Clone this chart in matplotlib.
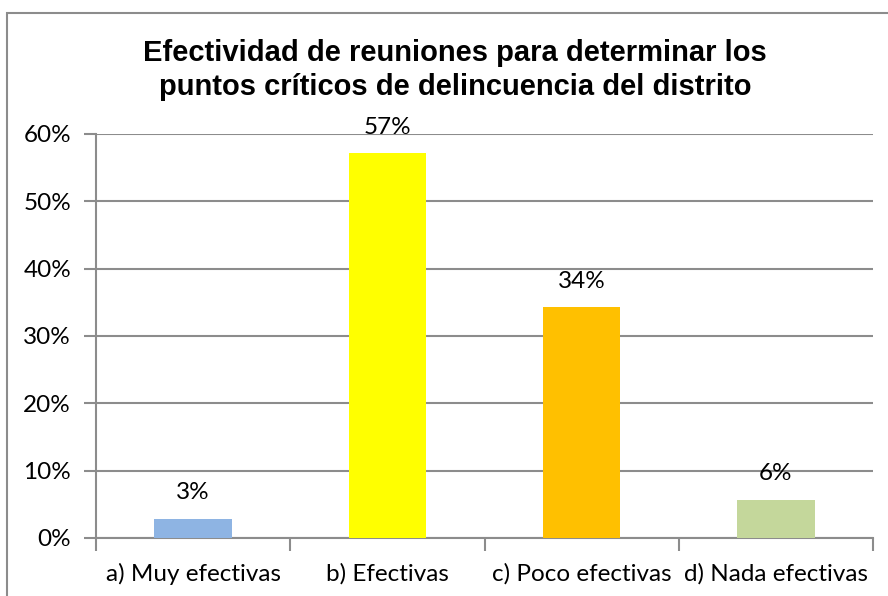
import matplotlib.pyplot as plt
from matplotlib.patches import Rectangle

categorias = ['a) Muy efectivas', 'b) Efectivas', 'c) Poco efectivas', 'd) Nada efectivas']
valores = [1/35, 20/35, 12/35, 2/35]
colores = ['#8EB4E3', '#FFFF00', '#FFC000', '#C4D79B']
yticks = [0, 0.1, 0.2, 0.3, 0.4, 0.5, 0.6]

W, H = 888, 596
fig = plt.figure(figsize=(W/100, H/100), dpi=100)
fig.patch.set_facecolor('white')

# chart border (cropped at right and bottom)
fig.patches.append(Rectangle((7/W, -0.1), 1.2, (H - 13)/H + 0.1, transform=fig.transFigure,
                             fill=False, edgecolor='#8c8c8c', linewidth=1.5))

fs = 17.5
ax = fig.add_axes([96/W, (H-538)/H, (873-96)/W, (538-134)/H])
x = range(len(categorias))
ax.bar(x, valores, width=0.4, color=colores, zorder=3)
ax.set_xlim(-0.5, 3.5)
ax.set_ylim(0, 0.6)
ax.set_yticks(yticks)
ax.set_yticklabels(['%d%%' % round(v*100) for v in yticks], fontsize=fs, family='Lato')
ax.set_xticks(list(x))
ax.set_xticklabels(categorias, fontsize=fs, family='Lato')
ax.tick_params(axis='x', length=0, pad=18)
ax.set_xticks([-0.5, 0.5, 1.5, 2.5, 3.5], minor=True)
ax.tick_params(axis='x', which='minor', length=9, width=1.5, color='#8c8c8c')
ax.tick_params(axis='y', length=9, width=1.5, color='#8c8c8c', pad=9)
ax.grid(axis='y', color='#8c8c8c', linewidth=1.5, zorder=0)
for s in ['top', 'right']:
    ax.spines[s].set_visible(False)
for s in ['left', 'bottom']:
    ax.spines[s].set_color('#8c8c8c')
    ax.spines[s].set_linewidth(1.5)

for i, v in enumerate(valores):
    ax.annotate('%d%%' % round(v*100), (i, v), xytext=(0, 26), textcoords='offset pixels',
                ha='center', va='center', fontsize=fs, family='Lato', zorder=4)

fig.text(455/W, 1 - 70/H, 'Efectividad de reuniones para determinar los\npuntos críticos de delincuencia del distrito',
         ha='center', va='center', fontsize=21, fontweight='bold', family='Liberation Sans',
         linespacing=1.25)

fig.savefig('out.png', dpi=100)
